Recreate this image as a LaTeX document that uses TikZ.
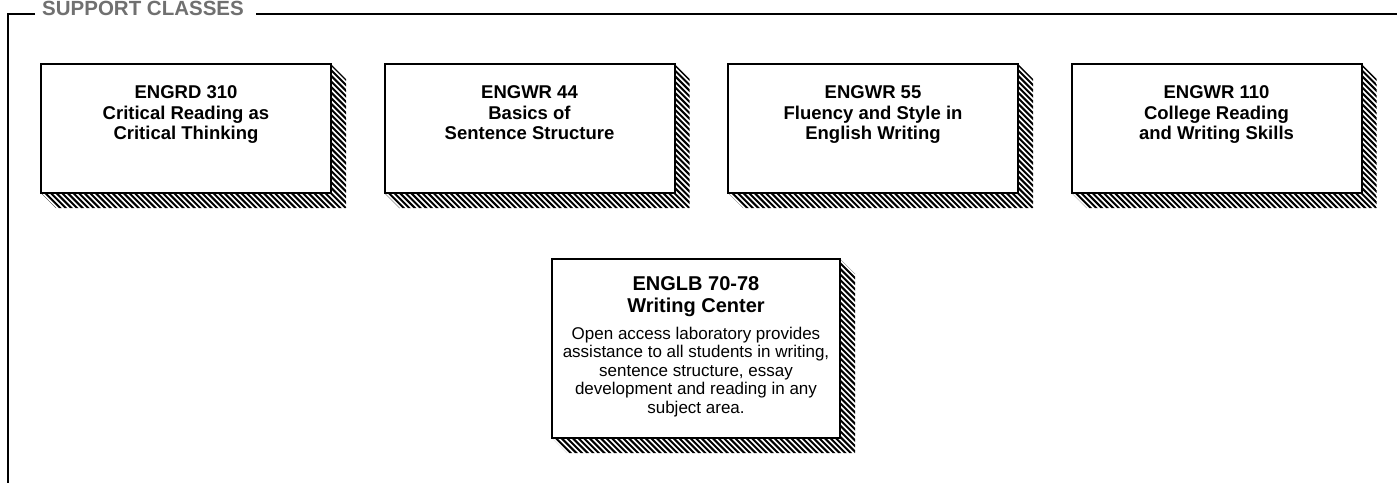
\documentclass[tikz,border=0pt]{standalone}
\usepackage{fontspec}
\setmainfont{Liberation Sans}
\usetikzlibrary{backgrounds}
\definecolor{titlegray}{HTML}{707070}
\begin{document}
\begin{tikzpicture}[x=1pt,y=-1pt,
  framel/.style={draw=black,line width=2pt},
  cbox/.style={draw=black,line width=2pt,fill=white,minimum width=290pt,minimum height=129pt,inner sep=0pt,outer sep=0pt,anchor=north west},
  stripe/.style={draw=black,line width=2pt},
  head/.style={font=\bfseries\fontsize{18.5}{20.5}\selectfont,align=center,inner sep=0pt,anchor=north},
  head5/.style={font=\bfseries\fontsize{20}{22}\selectfont,align=center,inner sep=0pt,anchor=north},
  body/.style={font=\fontsize{17}{18.5}\selectfont,align=center,inner sep=0pt,anchor=north}]
\useasboundingbox (0,0) rectangle (1397,483);

% frame and title
\node[font=\bfseries\fontsize{20.5}{22}\selectfont,text=titlegray,inner sep=0pt,anchor=base west] (title) at (42,15.5) {SUPPORT CLASSES};
\coordinate (fl) at (8,14);
\coordinate (fb) at (8,483);
\coordinate (fr) at (1397,14);
\draw[framel] ([xshift=-7pt]title.west |- fl) -- (fl) -- (fb);
\draw[framel] ([xshift=12pt]title.east |- fr) -- (fr);

% boxes
\node[cbox] (b1) at (41,64) {};
\node[cbox] (b2) at (384.5,64) {};
\node[cbox] (b3) at (728,64) {};
\node[cbox] (b4) at (1071.5,64) {};
\node[cbox,minimum width=288pt,minimum height=179pt] (b5) at (552,259) {};

% hatched shadows
\begin{scope}[on background layer]
\fill[white] (0,0) rectangle (1397,483);
\foreach \b in {b1,b2,b3,b4,b5}{
  \begin{scope}
  \clip (\b.north east) -- ++(15,15) -- ([shift={(15,15)}]\b.south east)
    -- ([shift={(15,15)}]\b.south west) -- (\b.south west) -- (\b.south east) -- cycle;
  \foreach \d in {-230,-224.4,...,320}{
    \draw[stripe] ([shift={(\d,-10)}]\b.north west) -- ++(240,240);
  }
  \end{scope}
}
\end{scope}

\node[head] (t1) at ([yshift=-21.8pt]b1.north) {ENGRD 310\\Critical Reading as\\Critical Thinking};
\node[head] (t2) at ([yshift=-21.8pt]b2.north) {ENGWR 44\\Basics of\\Sentence Structure};
\node[head] (t3) at ([yshift=-21.8pt]b3.north) {ENGWR 55\\Fluency and Style in\\English Writing};
\node[head] (t4) at ([yshift=-21.8pt]b4.north) {ENGWR 110\\College Reading\\and Writing Skills};
\node[head5] (t5) at ([yshift=-17.4pt]b5.north) {ENGLB 70-78\\Writing Center};
\node[body] (d5) at ([yshift=-67.6pt]b5.north) {Open access laboratory provides\\assistance to all students in writing,\\sentence structure, essay\\development and reading in any\\subject area.};
\end{tikzpicture}
\end{document}
